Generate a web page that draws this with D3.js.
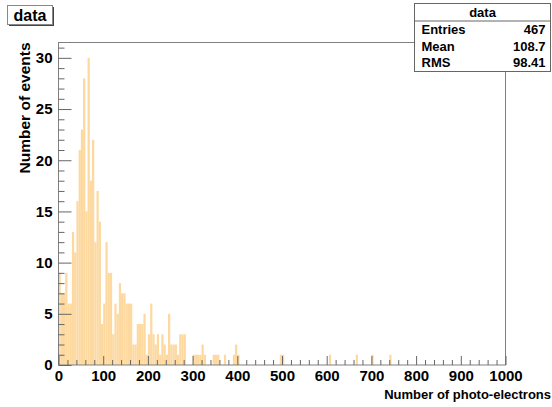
<!DOCTYPE html>
<html>
<head>
<meta charset="UTF-8">
<style>
  body { margin: 0; background: #fff; }
  svg { display: block; font-family: "Liberation Sans", Arial, sans-serif; font-weight: bold; }
</style>
</head>
<body>
<svg width="552" height="407"></svg>
<script src="https://d3js.org/d3.v7.min.js"></script>
<script>
// histogram: 200 bins of width 5 from 0 to 1000
const binWidth = 5;
const counts = [
  9, 7, 7, 9, 6, 6, 13, 11, 16, 21,
  23, 28, 15, 30, 18, 22, 12, 17, 14, 4,
  6, 12, 9, 9, 3, 6, 5, 8, 7, 7,
  6, 6, 6, 2, 2, 4, 4, 4, 5, 1,
  3, 6, 3, 2, 3, 1, 3, 2, 1, 5,
  2, 2, 2, 1, 3, 3, 3, 0, 0, 0,
  1, 1, 1, 1, 2, 1, 0, 0, 0, 1,
  1, 1, 0, 0, 1, 0, 0, 0, 1, 2,
  1, 0, 0, 0, 0, 0, 0, 0, 0, 0,
  0, 0, 0, 0, 0, 0, 0, 0, 0, 1,
  1, 0, 0, 0, 0, 0, 0, 0, 0, 0,
  0, 0, 0, 0, 0, 0, 0, 0, 0, 0,
  0, 1, 0, 0, 0, 0, 0, 0, 0, 0,
  0, 0, 0, 1, 0, 0, 0, 0, 0, 0,
  1, 0, 0, 0, 0, 0, 0, 0, 1, 0
];
const xMajor = [0, 100, 200, 300, 400, 500, 600, 700, 800, 900, 1000];
const yMajor = [0, 5, 10, 15, 20, 25, 30];
const statLabels = ["Entries", "Mean", "RMS"];
const statValues = ["467", "108.7", "98.41"];
const histName = "data";

const svg = d3.select("svg");
const fillColor = "#fdd9a0";

const x = d3.scaleLinear().domain([0, 1000]).range([58.5, 505.5]);
const y = d3.scaleLinear().domain([0, 31.5]).range([365, 42.5]);

// bars
const bins = counts.map((c, i) => ({ x0: i * binWidth, x1: (i + 1) * binWidth, c }))
  .filter(d => d.c > 0);
svg.append("g").selectAll("rect")
  .data(bins)
  .enter().append("rect")
  .attr("x", d => x(d.x0))
  .attr("width", d => x(d.x1) - x(d.x0))
  .attr("y", d => y(d.c))
  .attr("height", d => y(0) - y(d.c))
  .attr("fill", fillColor);

// frame
svg.append("rect")
  .attr("x", x(0)).attr("y", y(31.5))
  .attr("width", x(1000) - x(0)).attr("height", y(0) - y(31.5))
  .attr("fill", "none").attr("stroke", "#808080").attr("stroke-width", 1);

// y axis
const yMinor = d3.range(0, 32).filter(v => v % 5 !== 0);
svg.append("g").attr("transform", `translate(${x(0)},0)`)
  .call(d3.axisLeft(y).tickValues(yMinor).tickSize(-6).tickFormat(""))
  .call(g => g.select(".domain").remove());
svg.append("g").attr("class", "ymaj").attr("transform", `translate(${x(0)},0)`)
  .call(d3.axisLeft(y).tickValues(yMajor).tickSize(-13).tickPadding(6).tickFormat(d3.format("d")))
  .call(g => g.select(".domain").remove());

// x axis
const xMinor = d3.range(0, 1001, 20).filter(v => v % 100 !== 0);
svg.append("g").attr("transform", `translate(0,${y(0)})`)
  .call(d3.axisBottom(x).tickValues(xMinor).tickSize(-5).tickFormat(""))
  .call(g => g.select(".domain").remove());
svg.append("g").attr("class", "xmaj").attr("transform", `translate(0,${y(0)})`)
  .call(d3.axisBottom(x).tickValues(xMajor).tickSize(-9).tickPadding(4).tickFormat(d3.format("d")))
  .call(g => g.select(".domain").remove());

svg.selectAll(".tick line").attr("stroke", "#666");
svg.selectAll(".tick text")
  .attr("fill", "#000")
  .style("font-family", "'Liberation Sans', Arial, sans-serif")
  .style("font-weight", "bold")
  .style("font-size", "15px");
svg.selectAll(".xmaj .tick text").attr("y", 5);

// axis titles
svg.append("text")
  .attr("x", 551).attr("y", 399)
  .attr("text-anchor", "end")
  .style("font-size", "13px")
  .text("Number of photo-electrons");
svg.append("text")
  .attr("transform", `translate(30,${y(31.5)}) rotate(-90)`)
  .attr("text-anchor", "end")
  .style("font-size", "15.5px")
  .text("Number of events");

// title box
svg.append("rect").attr("x", 9).attr("y", 7).attr("width", 45).attr("height", 19).attr("fill", "#444");
svg.append("rect").attr("x", 7.5).attr("y", 5.5).attr("width", 45).attr("height", 19)
  .attr("fill", "#fff").attr("stroke", "#888");
svg.append("text").attr("x", 30).attr("y", 20.5)
  .attr("text-anchor", "middle").style("font-size", "16px").text(histName);

// stats box
const sx = 414.5, sy = 3.5, sw = 136, sh = 68;
svg.append("rect").attr("x", sx).attr("y", sy).attr("width", sw).attr("height", sh)
  .attr("fill", "#fff").attr("stroke", "#666");
svg.append("line").attr("x1", sx).attr("x2", sx + sw).attr("y1", 21).attr("y2", 21).attr("stroke", "#666");
svg.append("text").attr("x", sx + sw / 2).attr("y", 17)
  .attr("text-anchor", "middle").style("font-size", "13px").text(histName);
statLabels.forEach((lab, i) => {
  const by = 34 + i * 16.5;
  svg.append("text").attr("x", sx + 7).attr("y", by).style("font-size", "13px").text(lab);
  svg.append("text").attr("x", sx + sw - 5).attr("y", by)
    .attr("text-anchor", "end").style("font-size", "13px").text(statValues[i]);
});
</script>
</body>
</html>
